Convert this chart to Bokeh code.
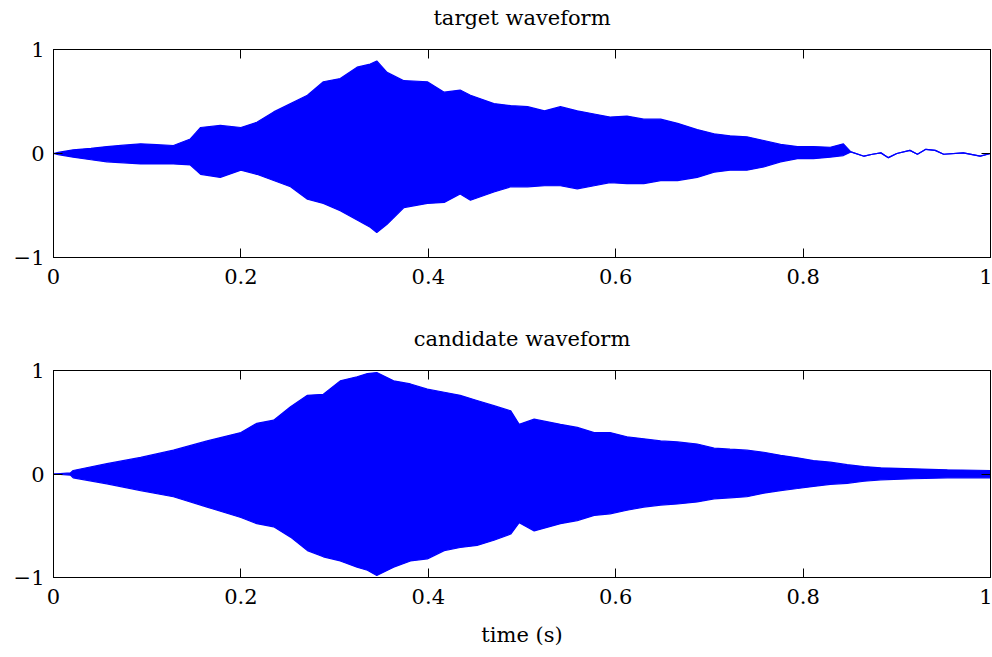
from bokeh.plotting import figure
from bokeh.models import LinearAxis, FixedTicker, ColumnDataSource
from bokeh.layouts import column
from bokeh.embed import file_html
from bokeh.resources import INLINE

FONT = "DejaVu Serif"
BLUE = "#0000ff"

x_ticks = [0, 0.2, 0.4, 0.6, 0.8, 1]
x_tick_labels = ["0", "0.2", "0.4", "0.6", "0.8", "1"]
y_ticks = [-1, 0, 1]
y_tick_labels = ["\u22121", "0", "1"]

# target waveform: envelope (upper / lower); after ~0.85 s a thin line
target_t = [0, 0.005, 0.021, 0.04, 0.057, 0.075, 0.093, 0.11, 0.128, 0.146, 0.152, 0.157,
            0.178, 0.2, 0.217, 0.235, 0.253, 0.271, 0.288, 0.306, 0.324, 0.338, 0.345,
            0.356, 0.374, 0.399, 0.417, 0.434, 0.445, 0.47, 0.488, 0.506, 0.524, 0.541,
            0.559, 0.577, 0.594, 0.612, 0.630, 0.648, 0.666, 0.687, 0.705, 0.722, 0.74,
            0.758, 0.776, 0.794, 0.811, 0.829, 0.843, 0.851, 0.865, 0.874, 0.883, 0.891,
            0.9, 0.914, 0.922, 0.931, 0.941, 0.95, 0.971, 0.989, 1.0]
target_upper = [0, 0.01, 0.035, 0.05, 0.067, 0.08, 0.093, 0.085, 0.077, 0.14, 0.2, 0.25,
                0.27, 0.25, 0.30, 0.40, 0.48, 0.56, 0.69, 0.72, 0.83, 0.86, 0.89,
                0.78, 0.70, 0.69, 0.59, 0.61, 0.56, 0.48, 0.46, 0.45, 0.41, 0.45,
                0.41, 0.38, 0.35, 0.36, 0.33, 0.33, 0.29, 0.23, 0.19, 0.17, 0.16,
                0.125, 0.087, 0.067, 0.067, 0.06, 0.093, 0.015, -0.026, -0.007, 0.006, -0.04,
                0.0, 0.03, -0.007, 0.04, 0.03, -0.007, 0.006, -0.026, 0.0]
target_lower = [0, -0.01, -0.035, -0.06, -0.08, -0.09, -0.1, -0.1, -0.1, -0.11, -0.16, -0.2,
                -0.23, -0.16, -0.2, -0.26, -0.32, -0.44, -0.48, -0.55, -0.64, -0.71, -0.76,
                -0.68, -0.52, -0.48, -0.47, -0.39, -0.45, -0.37, -0.32, -0.32, -0.31, -0.31,
                -0.34, -0.31, -0.28, -0.29, -0.29, -0.26, -0.26, -0.23, -0.18, -0.16, -0.16,
                -0.13, -0.08, -0.05, -0.05, -0.035, -0.02, 0.015, -0.026, -0.007, 0.006, -0.04,
                0.0, 0.03, -0.007, 0.04, 0.03, -0.007, 0.006, -0.026, 0.0]

# candidate waveform envelope
cand_t = [0, 0.018, 0.021, 0.057, 0.093, 0.128, 0.164, 0.2, 0.217, 0.235, 0.253, 0.271,
          0.288, 0.306, 0.324, 0.335, 0.345, 0.363, 0.381, 0.399, 0.417, 0.434, 0.452,
          0.47, 0.488, 0.497, 0.513, 0.541, 0.559, 0.577, 0.594, 0.612, 0.630, 0.648,
          0.666, 0.687, 0.705, 0.722, 0.74, 0.758, 0.776, 0.794, 0.811, 0.829, 0.847,
          0.865, 0.883, 0.918, 0.954, 1.0]
cand_upper = [0, 0.01, 0.034, 0.10, 0.16, 0.23, 0.32, 0.40, 0.49, 0.52, 0.65, 0.76,
              0.77, 0.90, 0.94, 0.97, 0.98, 0.90, 0.87, 0.82, 0.79, 0.76, 0.71,
              0.66, 0.61, 0.48, 0.53, 0.48, 0.45, 0.40, 0.40, 0.36, 0.34, 0.32,
              0.31, 0.29, 0.25, 0.24, 0.23, 0.21, 0.18, 0.156, 0.13, 0.114, 0.09,
              0.072, 0.06, 0.05, 0.04, 0.034]
cand_lower = [0, -0.01, -0.037, -0.095, -0.16, -0.22, -0.32, -0.42, -0.48, -0.51, -0.61, -0.74,
              -0.80, -0.84, -0.90, -0.93, -0.98, -0.90, -0.84, -0.82, -0.74, -0.71, -0.69,
              -0.64, -0.58, -0.47, -0.55, -0.48, -0.45, -0.40, -0.385, -0.35, -0.32, -0.30,
              -0.29, -0.27, -0.24, -0.23, -0.22, -0.185, -0.16, -0.14, -0.12, -0.10, -0.09,
              -0.07, -0.056, -0.046, -0.037, -0.037]


def style_axis(ax, ticks, labels, show_labels=True):
    ax.ticker = FixedTicker(ticks=ticks)
    ax.major_label_overrides = {k: (v if show_labels else "") for k, v in zip(ticks, labels)}
    ax.minor_tick_line_color = None
    ax.major_tick_in = 9
    ax.major_tick_out = 0
    ax.major_tick_line_color = "black"
    ax.major_tick_line_width = 1
    ax.axis_line_color = "black"
    ax.axis_line_width = 1
    ax.major_label_text_font = FONT
    ax.major_label_text_font_size = "21px" if show_labels else "0px"
    ax.major_label_text_color = "black"
    ax.major_label_standoff = 11 if show_labels else 0


def set_label(ax, text, standoff):
    ax.axis_label = text
    ax.axis_label_text_font = FONT
    ax.axis_label_text_font_style = "normal"
    ax.axis_label_text_font_size = "21px"
    ax.axis_label_text_color = "black"
    ax.axis_label_standoff = standoff


def make(title, t, up, lo, height, top, bottom, xlabel=None):
    p = figure(width=992, height=height, x_range=(0, 1), y_range=(-1, 1),
               output_backend="svg", toolbar_location=None,
               min_border_left=53, min_border_right=2,
               min_border_top=top, min_border_bottom=bottom)
    p.grid.visible = False
    p.outline_line_color = "black"
    p.outline_line_width = 1
    p.background_fill_color = "white"
    p.border_fill_color = "white"

    src = ColumnDataSource(dict(t=t, up=up, lo=lo))
    p.varea(x="t", y1="lo", y2="up", source=src, fill_color=BLUE, fill_alpha=1.0)
    p.line(x="t", y="up", source=src, line_color=BLUE, line_width=1.2)
    p.line(x="t", y="lo", source=src, line_color=BLUE, line_width=1.2)

    bottom_ax = p.xaxis[0]
    left_ax = p.yaxis[0]
    style_axis(bottom_ax, x_ticks, x_tick_labels)
    style_axis(left_ax, y_ticks, y_tick_labels)
    left_ax.major_label_standoff = 9
    if xlabel:
        set_label(bottom_ax, xlabel, 16)

    # mirrored ticks on top; the panel title is carried by this axis' label
    top_ax = LinearAxis()
    style_axis(top_ax, x_ticks, x_tick_labels, show_labels=False)
    set_label(top_ax, title, 20)
    p.add_layout(top_ax, "above")
    right_ax = LinearAxis()
    style_axis(right_ax, y_ticks, y_tick_labels, show_labels=False)
    p.add_layout(right_ax, "right")
    return p


p1 = make("target waveform", target_t, target_upper, target_lower, 310, 49, 53)
p2 = make("candidate waveform", cand_t, cand_upper, cand_lower, 347, 60, 80, xlabel="time (s)")
layout = column(p1, p2, spacing=0)

open("out.html", "w").write(file_html(layout, INLINE))
